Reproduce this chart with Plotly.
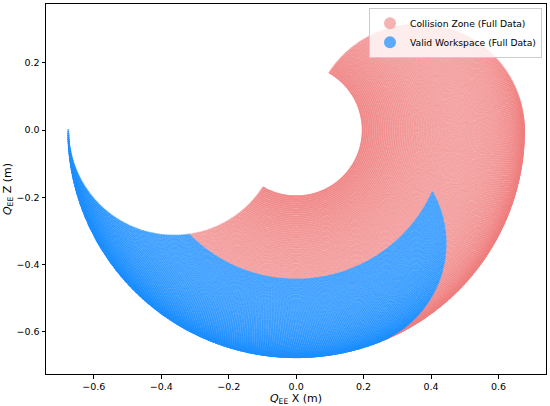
import numpy as np
import plotly.graph_objects as go

# arm geometry (m)
link_lengths = [0.362, 0.314]

# joint sweep (deg)
q1_range = [-180.0, 0.0]
q2_range = [0.0, 147.4]
q1_step = 0.5
q2_step = 1.0

# joint box that stays clear of the collision (deg)
valid_q1_max = -69.0
valid_q2_max = 98.5

series_names = ["Collision Zone (Full Data)", "Valid Workspace (Full Data)"]
series_colors = ["#f08080", "#1e90ff"]
series_opacity = [0.6, 0.72]

x_ticks = [-0.6, -0.4, -0.2, 0.0, 0.2, 0.4, 0.6]
y_ticks = [-0.6, -0.4, -0.2, 0.0, 0.2]


def sweep_workspace():
    q1 = np.arange(q1_range[0], q1_range[1] + 1e-9, q1_step)
    q2 = np.arange(q2_range[0], q2_range[1] + 1e-9, q2_step)
    Q1, Q2 = np.meshgrid(q1, q2)
    Q1, Q2 = Q1.ravel(), Q2.ravel()
    a, b = np.radians(Q1), np.radians(Q2)
    l1, l2 = link_lengths
    x = l1 * np.cos(a) + l2 * np.cos(a + b)
    z = l1 * np.sin(a) + l2 * np.sin(a + b)
    valid = (Q1 <= valid_q1_max) & (Q2 <= valid_q2_max)
    return x, z, valid


x, z, valid = sweep_workspace()

fig = go.Figure()
for name, color, alpha, mask in zip(series_names, series_colors, series_opacity,
                                    [~valid, valid]):
    fig.add_trace(go.Scatter(x=x[mask], y=z[mask], mode="markers", name=name,
                             marker=dict(size=2, color=color, opacity=alpha,
                                         line=dict(width=0))))

font = dict(family="DejaVu Sans", size=9.5, color="black")
title_font = dict(family="DejaVu Sans", size=11, color="black")
axis_style = dict(showline=True, linecolor="black", linewidth=1, mirror=True,
                  ticks="outside", ticklen=3.5, tickcolor="black", showgrid=False,
                  zeroline=False, tickfont=font, automargin=False)

fig.update_layout(
    width=550, height=406,
    margin=dict(l=46, r=4, t=4, b=32),
    plot_bgcolor="white", paper_bgcolor="white",
    font=font,
    xaxis=dict(range=[-0.742, 0.741], tickvals=x_ticks, tickformat=".1f",
               title=dict(text="<i>Q</i><sub>EE</sub> X (m)", font=title_font, standoff=3),
               **axis_style),
    yaxis=dict(range=[-0.726, 0.375], tickvals=y_ticks, tickformat=".1f",
               title=dict(text="<i>Q</i><sub>EE</sub> Z (m)", font=title_font, standoff=2),
               **axis_style),
    legend=dict(x=0.992, y=0.99, xanchor="right", yanchor="top",
                bgcolor="rgba(255,255,255,0.8)", bordercolor="#cccccc", borderwidth=1,
                itemsizing="constant", font=dict(family="DejaVu Sans", size=9.2),
                tracegroupgap=0),
    showlegend=True,
)

fig.write_html("out.html", config={"displayModeBar": False},
               post_script="document.body.style.margin='0';")
